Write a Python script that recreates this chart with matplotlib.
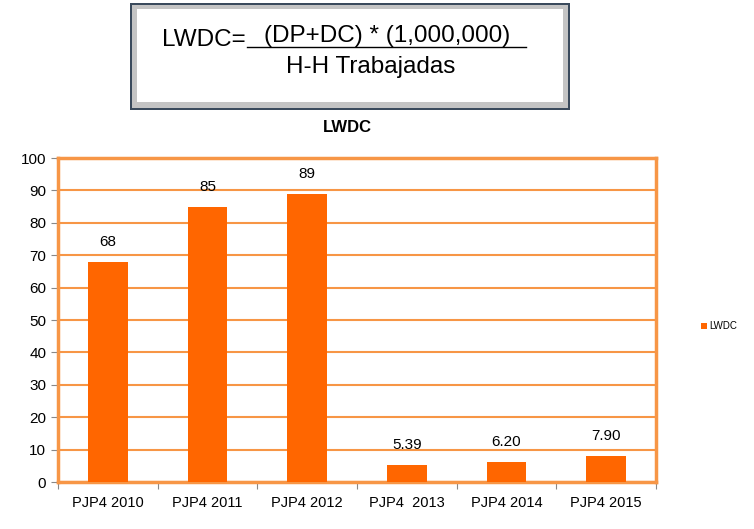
import matplotlib.pyplot as plt
from matplotlib.patches import Rectangle

categories = ['PJP4 2010', 'PJP4 2011', 'PJP4 2012', 'PJP4  2013', 'PJP4 2014', 'PJP4 2015']
lwdc = [68, 85, 89, 5.39, 6.20, 7.90]
value_labels = ['68', '85', '89', '5.39', '6.20', '7.90']
yticks = [0, 10, 20, 30, 40, 50, 60, 70, 80, 90, 100]

plt.rcParams['font.family'] = ['Liberation Sans', 'DejaVu Sans']

fig = plt.figure(figsize=(7.54, 5.29), dpi=100)
W, H = 754, 529


def fx(px):
    return px / W


def fy(py):
    return 1 - py / H


# formula box with bevel
box = Rectangle((fx(130), fy(110)), fx(570) - fx(130), fy(3) - fy(110),
                transform=fig.transFigure, facecolor='#3a4a5c', edgecolor='none')
fig.add_artist(box)
bevel = Rectangle((fx(132), fy(108)), fx(568) - fx(132), fy(5) - fy(108),
                  transform=fig.transFigure, facecolor='#c4c4c4', edgecolor='none')
fig.add_artist(bevel)
inner = Rectangle((fx(137), fy(102)), fx(563) - fx(137), fy(9) - fy(102),
                  transform=fig.transFigure, facecolor='white', edgecolor='none')
fig.add_artist(inner)

fig.text(fx(162), fy(40), 'LWDC=', fontsize=17.5, va='center', ha='left')
fig.text(fx(387), fy(36), '(DP+DC) * (1,000,000)', fontsize=17.5, va='center', ha='center')
fig.add_artist(plt.Line2D([fx(247), fx(526)], [fy(47), fy(47)],
                          transform=fig.transFigure, color='black', lw=1))
fig.text(fx(371), fy(67), 'H-H Trabajadas', fontsize=17.5, va='center', ha='center')

ax = fig.add_axes([58 / W, 1 - 482 / H, (656 - 58) / W, (482 - 158) / H])
x = list(range(len(categories)))
ax.bar(x, lwdc, width=0.4, color='#ff6600', label='LWDC', zorder=3)
for xi, v, lab in zip(x, lwdc, value_labels):
    ax.text(xi, v + 4, lab, ha='center', va='bottom', fontsize=11)

ax.set_xlim(-0.5, len(categories) - 0.5)
ax.set_ylim(0, 100)
ax.set_yticks(yticks)
ax.set_xticks([i - 0.5 for i in range(len(categories) + 1)])
ax.set_xticklabels([''] * (len(categories) + 1))
ax.set_xticks(x, minor=True)
ax.set_xticklabels(categories, minor=True, fontsize=10.5)
ax.tick_params(axis='x', which='minor', length=0, pad=10)
ax.tick_params(axis='x', which='major', length=5, color='#888888')
ax.tick_params(axis='y', length=5, color='#888888', labelsize=11)
ax.grid(axis='y', color='#f79646', lw=1.5, zorder=0)
for s in ['top', 'right', 'left', 'bottom']:
    ax.spines[s].set_color('#f79646')
    ax.spines[s].set_linewidth(2.5)

fig.text(fx(347), fy(128), 'LWDC', fontsize=12, fontweight='bold', ha='center', va='center')

ax.legend(loc='center left', bbox_to_anchor=(1.06, 0.48), frameon=False,
          fontsize=7, handlelength=0.7, handleheight=0.7, handletextpad=0.2)

fig.savefig('out.png', dpi=100)
